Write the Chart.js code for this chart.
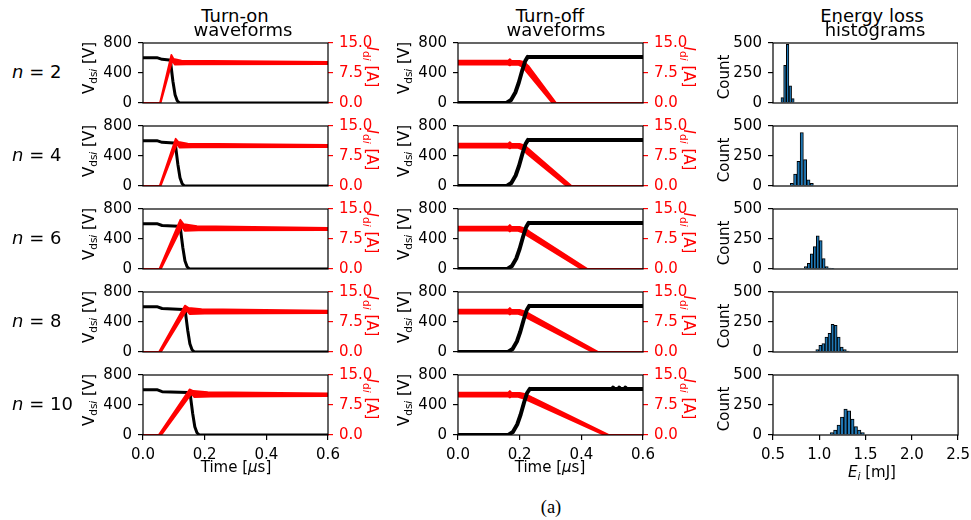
<!DOCTYPE html>
<html><head><meta charset="utf-8">
<script src="https://cdn.jsdelivr.net/npm/chart.js@4.4.1/dist/chart.umd.min.js"></script>
<style>
html,body{margin:0;padding:0;background:#fff;width:971px;height:520px;overflow:hidden;position:relative;font-family:'DejaVu Sans',sans-serif;}
canvas{position:absolute;}
.t{position:absolute;white-space:nowrap;color:#000;z-index:5;font-family:'DejaVu Sans',sans-serif;}
.t sub{font-size:0.7em;vertical-align:-0.3em;line-height:0;}
</style></head><body>
<script>
// ---------------- DATA ----------------
const rowN = ['2', '4', '6', '8', '10'];
const timeTicks = [0, 0.2, 0.4, 0.6];
const vdsTicks = [0, 400, 800];
const idiTicks = [0, 7.5, 15];
const countTicks = [0, 250, 500];
const energyTicks = [0.5, 1.0, 1.5, 2.0, 2.5];

// Turn-on: V_dsi [V] vs time [us]
const onVds2  = [[0,605],[0.045,605],[0.062,582],[0.085,574],[0.089,560],[0.097,290],[0.104,110],[0.111,30],[0.119,0],[0.6,0]];
const onVds4  = [[0,605],[0.045,605],[0.062,582],[0.1,572],[0.105,555],[0.113,290],[0.12,110],[0.127,30],[0.135,0],[0.6,0]];
const onVds6  = [[0,605],[0.045,605],[0.062,580],[0.115,570],[0.121,550],[0.129,290],[0.136,110],[0.143,30],[0.151,0],[0.6,0]];
const onVds8  = [[0,605],[0.045,605],[0.062,580],[0.13,568],[0.137,548],[0.145,290],[0.152,110],[0.159,30],[0.167,0],[0.6,0]];
const onVds10 = [[0,605],[0.045,605],[0.062,578],[0.146,566],[0.153,545],[0.161,290],[0.168,110],[0.175,30],[0.183,0],[0.6,0]];
// Turn-on: I_di [A] band (upper / lower edge of the overlapping traces)
const onIup2  = [[0,0],[0.055,0],[0.092,12.0],[0.099,11.0],[0.125,10.6],[0.6,10.3]];
const onIlo2  = [[0,0],[0.057,0],[0.095,10.6],[0.103,9.6],[0.14,9.65],[0.6,9.75]];
const onIup4  = [[0,0],[0.054,0],[0.106,11.8],[0.115,11.0],[0.145,10.6],[0.6,10.3]];
const onIlo4  = [[0,0],[0.057,0],[0.110,10.5],[0.119,9.6],[0.16,9.65],[0.6,9.75]];
const onIup6  = [[0,0],[0.053,0],[0.121,12.3],[0.132,11.2],[0.175,10.7],[0.6,10.3]];
const onIlo6  = [[0,0],[0.058,0],[0.126,10.6],[0.135,9.55],[0.18,9.65],[0.6,9.75]];
const onIup8  = [[0,0],[0.052,0],[0.136,11.6],[0.148,11.0],[0.19,10.7],[0.6,10.35]];
const onIlo8  = [[0,0],[0.058,0],[0.141,10.4],[0.151,9.5],[0.2,9.6],[0.6,9.75]];
const onIup10 = [[0,0],[0.051,0],[0.151,11.4],[0.163,11.0],[0.21,10.7],[0.6,10.4]];
const onIlo10 = [[0,0],[0.059,0],[0.157,10.3],[0.166,9.5],[0.22,9.6],[0.6,9.7]];

// Turn-off: V_dsi [V]
const offVds2  = [[0,0],[0.157,0],[0.172,40],[0.186,140],[0.197,270],[0.208,430],[0.218,560],[0.226,615],[0.6,612]];
const offVds4  = [[0,0],[0.158,0],[0.173,40],[0.187,140],[0.198,270],[0.209,430],[0.219,560],[0.227,615],[0.6,612]];
const offVds6  = [[0,0],[0.16,0],[0.175,40],[0.189,140],[0.2,270],[0.211,430],[0.221,560],[0.229,615],[0.6,612]];
const offVds8  = [[0,0],[0.162,0],[0.177,40],[0.191,140],[0.202,270],[0.213,430],[0.223,560],[0.231,615],[0.6,612]];
const offVds10 = [[0,0],[0.163,0],[0.178,40],[0.192,140],[0.203,270],[0.214,430],[0.224,560],[0.233,615],[0.5,612],[0.503,632],[0.506,612],[0.52,612],[0.523,632],[0.526,612],[0.54,612],[0.543,632],[0.546,612],[0.6,612]];
// Turn-off: I_di [A] band
const offIup2  = [[0,10.6],[0.163,10.6],[0.168,10.95],[0.173,10.6],[0.2,10.55],[0.215,10.2],[0.228,9.3],[0.318,0],[0.6,0]];
const offIlo2  = [[0,9.6],[0.163,9.6],[0.168,9.4],[0.173,9.6],[0.195,9.55],[0.208,9.1],[0.218,8.2],[0.306,0],[0.6,0]];
const offIup4  = [[0,10.6],[0.163,10.6],[0.168,10.95],[0.173,10.6],[0.2,10.55],[0.217,10.1],[0.232,9.1],[0.368,0],[0.6,0]];
const offIlo4  = [[0,9.6],[0.163,9.6],[0.168,9.4],[0.173,9.6],[0.195,9.55],[0.21,9.1],[0.222,8.2],[0.352,0],[0.6,0]];
const offIup6  = [[0,10.6],[0.163,10.6],[0.168,11.0],[0.173,10.6],[0.2,10.55],[0.218,10.1],[0.235,9.2],[0.42,0],[0.6,0]];
const offIlo6  = [[0,9.6],[0.163,9.6],[0.168,9.35],[0.173,9.6],[0.195,9.55],[0.211,9.1],[0.225,8.3],[0.4,0],[0.6,0]];
const offIup8  = [[0,10.6],[0.163,10.6],[0.168,11.0],[0.173,10.6],[0.2,10.55],[0.219,10.1],[0.237,9.3],[0.455,0],[0.6,0]];
const offIlo8  = [[0,9.6],[0.163,9.6],[0.168,9.35],[0.173,9.6],[0.195,9.55],[0.212,9.1],[0.227,8.4],[0.436,0],[0.6,0]];
const offIup10 = [[0,10.6],[0.163,10.6],[0.168,11.0],[0.173,10.6],[0.2,10.55],[0.22,10.2],[0.24,9.4],[0.49,0],[0.6,0]];
const offIlo10 = [[0,9.6],[0.163,9.6],[0.168,9.35],[0.173,9.6],[0.195,9.55],[0.213,9.1],[0.23,8.5],[0.474,0],[0.6,0]];

// Energy-loss histograms: bin centres [mJ] and counts
const histE2  = [0.600,0.629,0.658,0.687,0.715];
const histC2  = [45,313,489,144,36];
const histE4  = [0.704,0.740,0.776,0.811,0.847,0.883,0.919];
const histC4  = [23,99,206,446,220,51,23];
const histE6  = [0.855,0.887,0.919,0.952,0.984,1.016,1.048,1.081,1.113,1.145];
const histC6  = [20,47,127,186,277,236,86,20,8,3];
const histE8  = [0.979,1.012,1.045,1.078,1.111,1.144,1.177,1.210,1.243,1.276,1.309];
const histC8  = [20,55,70,125,155,230,222,125,42,20,8];
const histE10 = [1.099,1.136,1.173,1.210,1.247,1.284,1.321,1.358,1.395,1.432,1.469,1.506];
const histC10 = [5,20,42,83,150,217,202,133,70,42,20,5];

// ---------------- LAYOUT ----------------
const onVds = [onVds2, onVds4, onVds6, onVds8, onVds10];
const onIup = [onIup2, onIup4, onIup6, onIup8, onIup10];
const onIlo = [onIlo2, onIlo4, onIlo6, onIlo8, onIlo10];
const offVds = [offVds2, offVds4, offVds6, offVds8, offVds10];
const offIup = [offIup2, offIup4, offIup6, offIup8, offIup10];
const offIlo = [offIlo2, offIlo4, offIlo6, offIlo8, offIlo10];
const histE = [histE2, histE4, histE6, histE8, histE10];
const histC = [histC2, histC4, histC6, histC8, histC10];

const colLeft = [143, 458, 773];
const rowTop = [43, 126, 209, 292, 375];
const plotW = 185, plotH = 60;
const FONT = {family: "'DejaVu Sans', sans-serif", size: 15};
Chart.defaults.animation = false;
Chart.defaults.font.family = "'DejaVu Sans', sans-serif";

const framePlugin = {
  id: 'frame',
  afterDatasetsDraw(chart) {
    const {ctx, chartArea: a} = chart;
    ctx.save();
    ctx.strokeStyle = '#000';
    ctx.lineWidth = 1.2;
    ctx.strokeRect(a.left, a.top, a.right - a.left, a.bottom - a.top);
    ctx.restore();
  }
};

function pts(arr) { return arr.map(p => ({x: p[0], y: p[1]})); }

function yAxis(ticksArr, color, pos, fmt, width) {
  return {
    type: 'linear', position: pos,
    min: ticksArr[0], max: ticksArr[ticksArr.length - 1],
    afterBuildTicks: s => { s.ticks = ticksArr.map(v => ({value: v})); },
    ticks: {color: color, font: FONT, padding: 6, autoSkip: false, callback: v => fmt(v)},
    grid: {display: true, drawOnChartArea: false, drawTicks: true, tickLength: 5, color: color, lineWidth: 1.2},
    border: {display: false},
    afterFit: s => { s.width = width; }
  };
}
function xAxis(ticksArr, show) {
  if (!show) {
    return {type: 'linear', min: ticksArr[0], max: ticksArr[ticksArr.length - 1], display: false, offset: false, grid: {offset: false}};
  }
  return {
    type: 'linear', min: ticksArr[0], max: ticksArr[ticksArr.length - 1], offset: false,
    afterBuildTicks: s => { s.ticks = ticksArr.map(v => ({value: v})); },
    ticks: {color: '#000', font: FONT, padding: 6, maxRotation: 0, autoSkip: false, callback: v => Number(v).toFixed(1)},
    grid: {display: true, drawOnChartArea: false, drawTicks: true, tickLength: 5, color: '#000', lineWidth: 1.2, offset: false},
    border: {display: false},
    afterFit: s => { s.height = 30; }
  };
}

function place(left, top, buildCfg) {
  let W = 330, H = 150;
  for (let pass = 0; pass < 2; pass++) {
    const c = document.createElement('canvas');
    c.width = W; c.height = H;
    c.style.width = W + 'px'; c.style.height = H + 'px';
    c.style.left = '0px'; c.style.top = '0px';
    document.body.appendChild(c);
    const ch = new Chart(c, buildCfg());
    const a = ch.chartArea;
    if (pass === 0) {
      W = Math.round(W + plotW - (a.right - a.left));
      H = Math.round(H + plotH - (a.bottom - a.top));
      ch.destroy(); c.remove();
    } else {
      c.style.left = (left - a.left) + 'px';
      c.style.top = (top - a.top) + 'px';
    }
  }
}

function waveCfg(vds, iup, ilo, showX, blackOnTop, vdsWidth) {
  return () => {
    const black = {data: pts(vds), borderColor: '#000', borderWidth: vdsWidth, yAxisID: 'y', pointRadius: 0, fill: false, tension: 0, borderJoinStyle: 'round', borderCapStyle: 'round'};
    const up = {data: pts(iup), borderColor: '#ff0000', backgroundColor: '#ff0000', borderWidth: 1.8, yAxisID: 'y1', pointRadius: 0, fill: '+1', tension: 0, borderJoinStyle: 'round'};
    const lo = {data: pts(ilo), borderColor: '#ff0000', backgroundColor: '#ff0000', borderWidth: 1.8, yAxisID: 'y1', pointRadius: 0, fill: false, tension: 0, borderJoinStyle: 'round'};
    const datasets = blackOnTop ? [black, up, lo] : [up, lo, black];
    return {
      type: 'line',
      data: {datasets: datasets},
      options: {
        responsive: false, maintainAspectRatio: false, animation: false, devicePixelRatio: 1,
        layout: {padding: 0},
        plugins: {legend: {display: false}, tooltip: {enabled: false}},
        scales: {
          x: xAxis(timeTicks, showX),
          y: yAxis(vdsTicks, '#000', 'left', v => String(v), 62),
          y1: yAxis(idiTicks, '#ff0000', 'right', v => Number(v).toFixed(1), 52)
        }
      },
      plugins: [framePlugin]
    };
  };
}

function histCfg(e, c, showX) {
  return () => ({
    type: 'bar',
    data: {datasets: [{
      data: e.map((v, i) => ({x: v, y: c[i]})),
      backgroundColor: '#1f77b4', borderColor: '#000', borderWidth: 1,
      categoryPercentage: 1, barPercentage: 1
    }]},
    options: {
      responsive: false, maintainAspectRatio: false, animation: false, devicePixelRatio: 1,
      layout: {padding: 0},
      plugins: {legend: {display: false}, tooltip: {enabled: false}},
      scales: {
        x: xAxis(energyTicks, showX),
        y: yAxis(countTicks, '#000', 'left', v => String(v), 62)
      }
    },
    plugins: [framePlugin]
  });
}

for (let r = 0; r < 5; r++) {
  const last = r === 4;
  place(colLeft[0], rowTop[r], waveCfg(onVds[r], onIup[r], onIlo[r], last, false, 3));
  place(colLeft[1], rowTop[r], waveCfg(offVds[r], offIup[r], offIlo[r], last, true, 4));
  place(colLeft[2], rowTop[r], histCfg(histE[r], histC[r], last));
}

// ---------------- TEXT ----------------
function txt(html, x, y, css) {
  const d = document.createElement('div');
  d.className = 't';
  d.innerHTML = html;
  d.style.left = x + 'px';
  d.style.top = y + 'px';
  Object.assign(d.style, css || {});
  document.body.appendChild(d);
  return d;
}
const titleCss = {fontSize: '18px', lineHeight: '18px', transform: 'translate(-50%,0)'};
txt('Turn-on', 235, 6.5, titleCss);
txt('waveforms', 243, 20.8, titleCss);
txt('Turn-off', 550, 6.5, titleCss);
txt('waveforms', 556, 20.8, titleCss);
txt('Energy loss', 872, 6.5, titleCss);
txt('histograms', 875, 20.8, titleCss);

for (let r = 0; r < 5; r++) {
  const y0 = rowTop[r];
  txt('<i>n</i> = ' + rowN[r], 12, y0 + 20, {fontSize: '18px', lineHeight: '18px'});
  const vcss = {fontSize: '15px', lineHeight: '15px', transform: 'translate(-50%,-50%) rotate(-90deg)'};
  txt('V<sub>ds<i>i</i></sub> [V]', 89, y0 + 25, vcss);
  txt('V<sub>ds<i>i</i></sub> [V]', 404, y0 + 25, vcss);
  const icss = {fontSize: '15px', lineHeight: '15px', color: '#ff0000', transform: 'translate(-50%,-50%) rotate(90deg)'};
  txt('<i>I</i><sub>d<i>i</i></sub> [A]', 371, y0 + 24, icss);
  txt('<i>I</i><sub>d<i>i</i></sub> [A]', 688, y0 + 24, icss);
  txt('Count', 724, y0 + 34, vcss);
}
const xcss = {fontSize: '15px', lineHeight: '15px', transform: 'translate(-50%,0)'};
txt('Time [<i>μ</i>s]', 236, 459.5, xcss);
txt('Time [<i>μ</i>s]', 550, 459.5, xcss);
txt('<i>E</i><sub><i>i</i></sub> [mJ]', 872, 464.5, xcss);
txt('(a)', 551, 497.5, {fontSize: '18.5px', lineHeight: '18.5px', fontFamily: "'Liberation Serif', 'Times New Roman', serif", transform: 'translate(-50%,0)'});
</script>
</body></html>
